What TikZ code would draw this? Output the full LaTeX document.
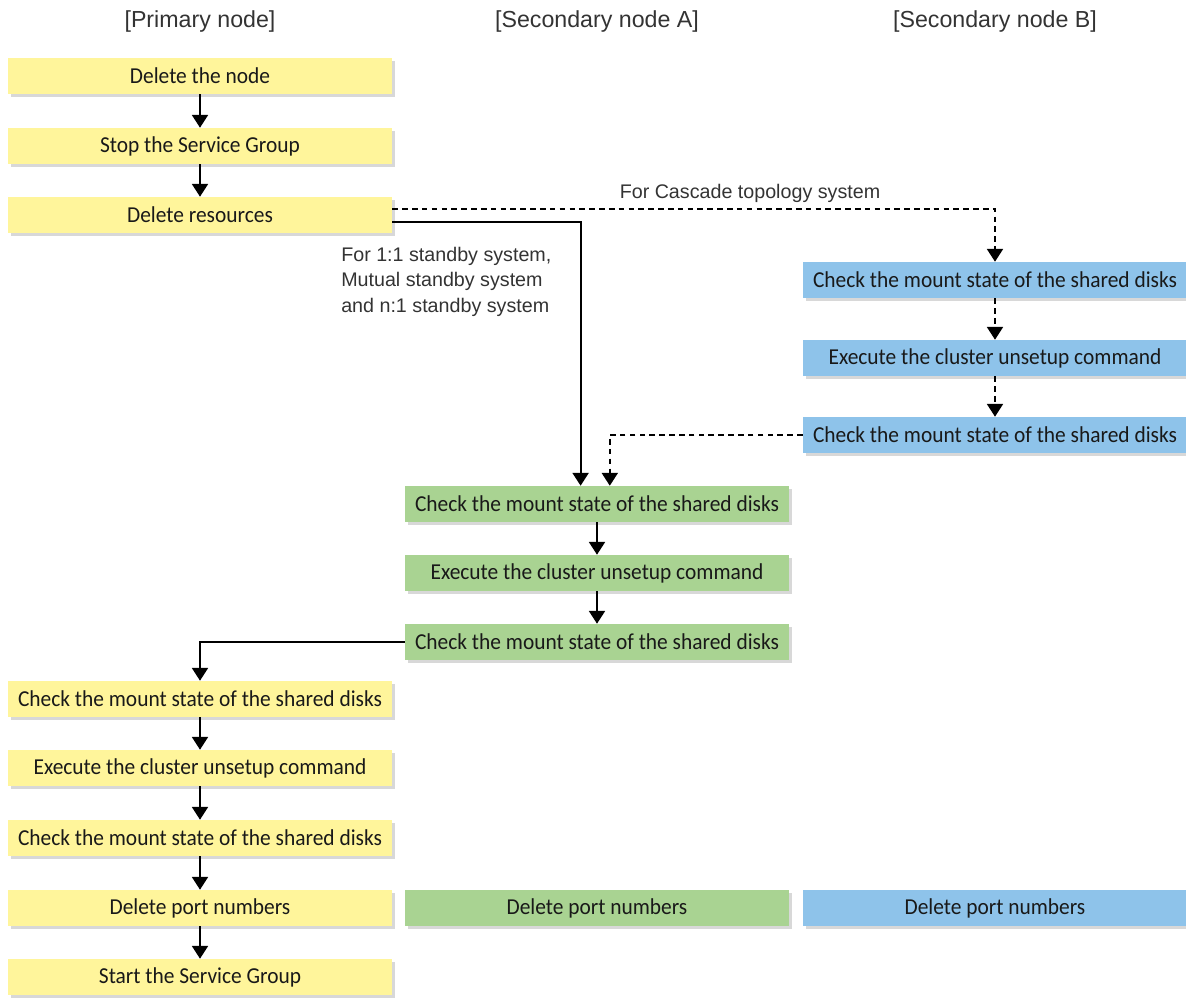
\documentclass[tikz,border=0pt]{standalone}
\usepackage{fontspec}
\setmainfont{Liberation Sans}
\newfontfamily\boxfont[FakeStretch=0.94]{Carlito}
\usetikzlibrary{arrows.meta,positioning}
\usetikzlibrary{shadows}
\usetikzlibrary{calc}

\definecolor{stepyellow}{HTML}{FFF59B}
\definecolor{stepgreen}{HTML}{A9D392}
\definecolor{stepblue}{HTML}{8EC3EA}
\definecolor{labelgray}{HTML}{333333}

\begin{document}
\begin{tikzpicture}[
    x=0.025cm, y=-0.025cm,
    >={Triangle[length=0.32cm,width=0.4cm]},
    stepbox/.style={rectangle,minimum width=9.6cm,minimum height=0.9cm,inner sep=0pt,
        font=\boxfont\fontsize{16.2}{19}\selectfont,text=black!90,
        drop shadow={shadow xshift=0.07cm,shadow yshift=-0.07cm,fill=black!30}},
    prim/.style={stepbox,fill=stepyellow},
    seca/.style={stepbox,fill=stepgreen},
    secb/.style={stepbox,fill=stepblue},
    hdr/.style={font=\fontsize{16.5}{20}\selectfont,text=labelgray},
    note/.style={font=\fontsize{14}{18}\selectfont,text=labelgray,inner sep=0pt},
    flow/.style={->,line width=1.3pt},
    cascade/.style={->,line width=1.3pt,dash pattern=on 4pt off 3pt},
]
\useasboundingbox (0,0) rectangle (1186,999);

% =====================================================
% Column headers
% =====================================================

\node[hdr] (hdrP) at (200,22) {[Primary node]};
\node[hdr] (hdrA) at (597,22) {[Secondary node A]};
\node[hdr] (hdrB) at (995,22) {[Secondary node B]};

% =====================================================
% Primary node
% =====================================================

\node[prim] (delnode) at (200,76) {Delete the node};
\node[prim] (stopsg) at (200,146) {Stop the Service Group};
\node[prim] (delres) at (200,215) {Delete resources};

\node[prim] (pchk1) at (200,699) {Check the mount state of the shared disks};
\node[prim] (pexec) at (200,768) {Execute the cluster unsetup command};
\node[prim] (pchk2) at (200,838) {Check the mount state of the shared disks};
\node[prim] (pport) at (200,908) {Delete port numbers};
\node[prim] (startsg) at (200,977) {Start the Service Group};

% =====================================================
% Secondary node A
% =====================================================

\node[seca] (achk1) at (597,504) {Check the mount state of the shared disks};
\node[seca] (aexec) at (597,573) {Execute the cluster unsetup command};
\node[seca] (achk2) at (597,642) {Check the mount state of the shared disks};
\node[seca] (aport) at (597,908) {Delete port numbers};

% =====================================================
% Secondary node B
% =====================================================

\node[secb] (bchk1) at (995,280) {Check the mount state of the shared disks};
\node[secb] (bexec) at (995,358) {Execute the cluster unsetup command};
\node[secb] (bchk2) at (995,435) {Check the mount state of the shared disks};
\node[secb] (bport) at (995,908) {Delete port numbers};

% =====================================================
% Labels
% =====================================================

\node[note] (cascnote) at (750,193) {For Cascade topology system};
\node[note,anchor=north west,align=left] (stbynote) at (341,247)
{
For 1:1 standby system,\\
Mutual standby system\\
and n:1 standby system
};

% =====================================================
% Connectors
% =====================================================

\draw[flow] (delnode) -- (stopsg);
\draw[flow] (stopsg) -- (delres);

\draw[flow]
    ([yshift=-0.175cm]delres.east)
    -| ([xshift=-0.41cm]achk1.north);

\draw[cascade]
    ([yshift=0.15cm]delres.east)
    -| (bchk1.north);

\draw[cascade] (bchk1) -- (bexec);
\draw[cascade] (bexec) -- (bchk2);

\draw[cascade]
    (bchk2.west)
    -| ([xshift=0.32cm]achk1.north);

\draw[flow] (achk1) -- (aexec);
\draw[flow] (aexec) -- (achk2);

\draw[flow]
    (achk2.west)
    -| (pchk1.north);

\draw[flow] (pchk1) -- (pexec);
\draw[flow] (pexec) -- (pchk2);
\draw[flow] (pchk2) -- (pport);
\draw[flow] (pport) -- (startsg);

\end{tikzpicture}
\end{document}
